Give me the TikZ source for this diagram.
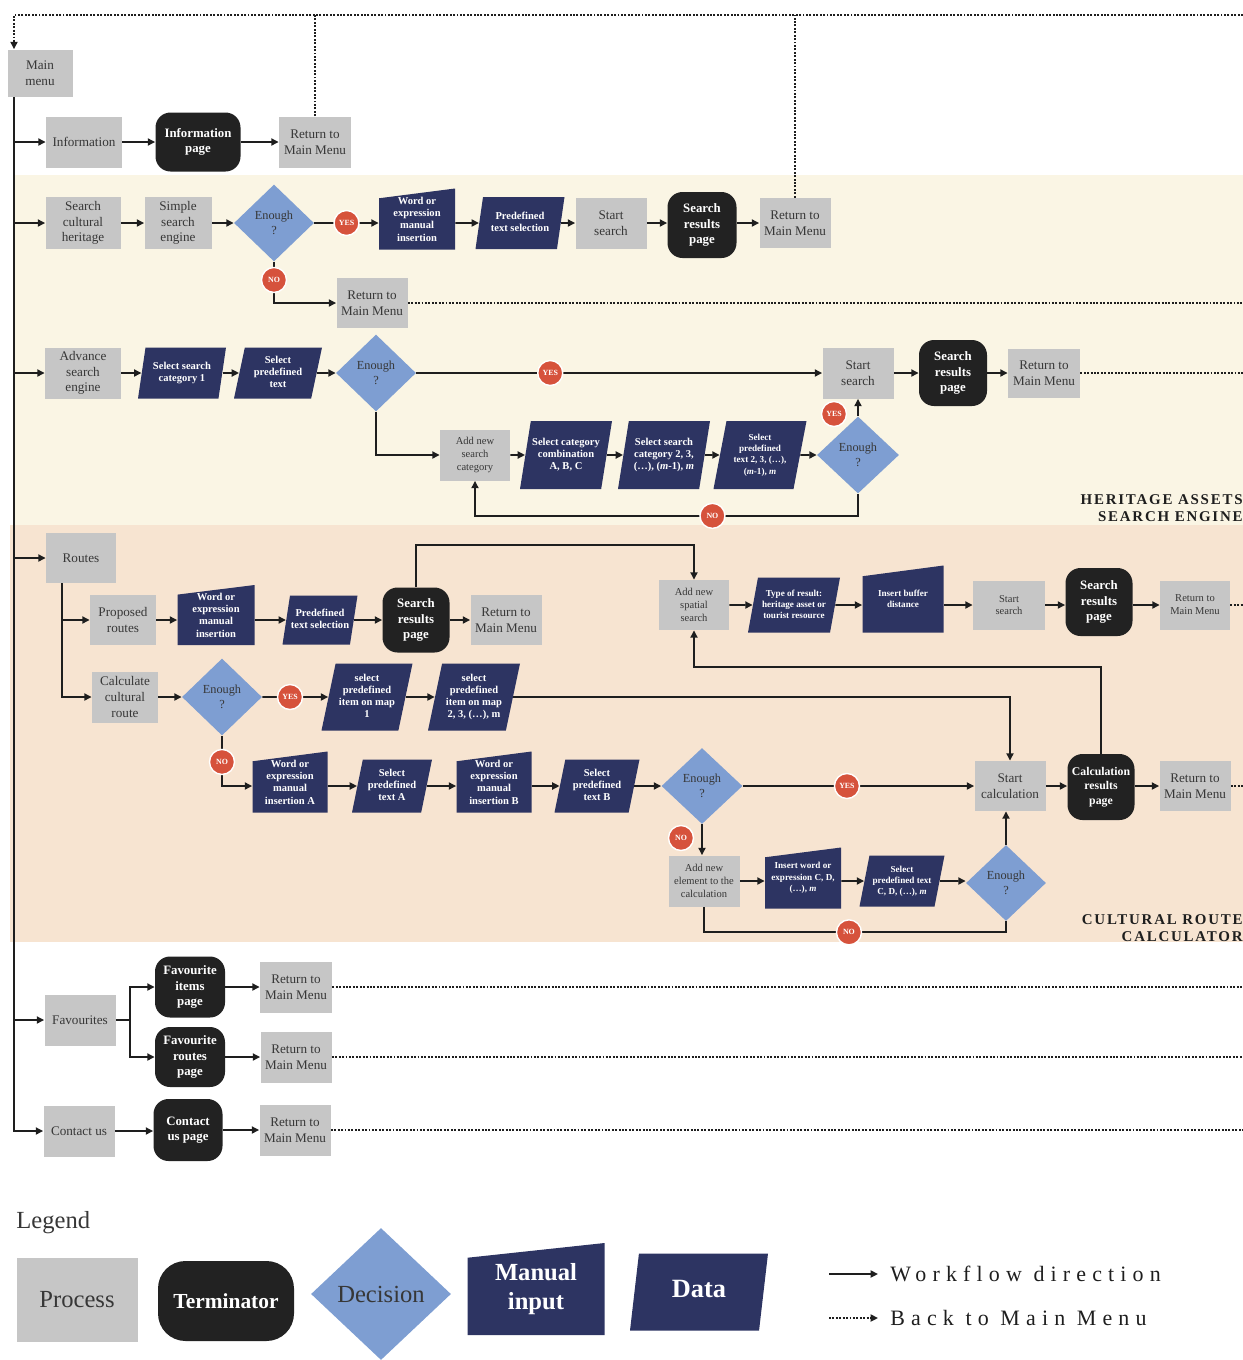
\documentclass[tikz,border=0pt]{standalone}
\usepackage{fontspec}
\setmainfont{Liberation Serif}
\usetikzlibrary{shapes.geometric,arrows.meta,calc}

% centred text of no width, so the slanted boxes keep their size
\newcommand{\ctext}[1]{\makebox[0pt]{\begin{tabular}{@{}c@{}}#1\end{tabular}}}

\tikzset{
  wh/.style 2 args={minimum width=#1*0.02cm, minimum height=#2*0.02cm},
  proc/.style={rectangle, fill=procgray, text=proctext, inner sep=1pt, align=center, font=\fontsize{7.5}{9}\selectfont},
  smallf/.style={font=\fontsize{6}{7.3}\selectfont},
  term/.style={rectangle, rounded corners=0.3cm, fill=termblack, text=white, inner sep=1pt, align=center, font=\bfseries\fontsize{7.3}{8.8}\selectfont},
  dec/.style={diamond, fill=decblue, text=proctext, inner sep=0pt, align=center, font=\fontsize{7}{8.5}\selectfont},
  datab/.style={trapezium, trapezium left angle=75, trapezium right angle=105, trapezium stretches body, fill=navyb, text=white, inner sep=1pt, font=\bfseries\fontsize{6}{7}\selectfont},
  manin/.style={rectangle, inner sep=1pt, align=center, text=white, font=\bfseries\fontsize{6}{7}\selectfont,
    path picture={\fill[navyb] (path picture bounding box.south west) -- (path picture bounding box.south east)
      -- (path picture bounding box.north east)
      -- ($(path picture bounding box.north west)!0.16!(path picture bounding box.south west)$) -- cycle;}},
  tinyf/.style={font=\bfseries\fontsize{5.2}{6.4}\selectfont},
  ans/.style={circle, fill=reddot, draw=white, line width=0.8pt, minimum size=0.5cm, inner sep=0pt, text=white, font=\bfseries\fontsize{4.5}{5}\selectfont},
  wline/.style={line width=1.1pt, draw=linecol},
  arr/.style={wline, -{Triangle[length=4.2pt,width=4pt]}},
  backdot/.style={line width=1.25pt, draw=linecol, dash pattern=on 1.1pt off 0.85pt},
  sect/.style={align=right, inner sep=0pt, text=linecol, font=\bfseries\fontsize{8.5}{9.7}\selectfont\addfontfeatures{LetterSpace=12}},
  legtext/.style={anchor=west, inner xsep=0.24cm, inner ysep=0pt, text=linecol, font=\fontsize{12.5}{14}\selectfont\addfontfeatures{LetterSpace=28}}
}

\begin{document}
\begin{tikzpicture}[x=0.02cm, y=-0.02cm] % one unit is one pixel of the sketch
  % colours
  \definecolor{procgray}{RGB}{198,198,198}
  \definecolor{proctext}{RGB}{55,55,55}
  \definecolor{termblack}{RGB}{34,34,34}
  \definecolor{decblue}{RGB}{126,158,210}
  \definecolor{navyb}{RGB}{45,52,98}
  \definecolor{reddot}{RGB}{214,82,60}
  \definecolor{linecol}{RGB}{30,30,30}
  \definecolor{creambg}{RGB}{250,245,228}
  \definecolor{peachbg}{RGB}{247,228,209}

  \useasboundingbox (0,0) rectangle (1243,1360);

  % section backgrounds
  \fill[creambg] (14,175) rectangle (1243,525);
  \fill[peachbg] (10,525) rectangle (1243,942);
  \node[sect, anchor=south east] (hase) at (1243,522) {HERITAGE ASSETS\\SEARCH ENGINE};
  \node[sect, anchor=south east] (crc) at (1243,942) {CULTURAL ROUTE\\CALCULATOR};

  % main menu and information
  \node[proc, wh={65}{47}] (main) at (40,73) {Main\\menu};
  \node[proc, wh={76}{51}] (info) at (84,142) {Information};
  \node[term, wh={85}{59}] (infopage) at (198,142) {Information\\page};
  \node[proc, wh={72}{51}] (ret1) at (315,142) {Return to\\Main Menu};

  % simple search
  \node[proc, wh={75}{52}] (sch) at (83,223) {Search\\cultural\\heritage};
  \node[proc, wh={67}{52}] (sse) at (178,223) {Simple\\search\\engine};
  \node[dec, wh={80}{77}] (en1) at (274,223) {Enough\\?};
  \node[manin, wh={76}{61}] (man1) at (417,219) {Word or\\expression\\manual\\insertion};
  \node[datab, wh={89}{52}] (dat1) at (520,223) {\ctext{Predefined\\text selection}};
  \node[proc, wh={71}{51}] (ss1) at (611,223) {Start\\search};
  \node[term, wh={69}{66}] (srp1) at (702,225) {Search\\results\\page};
  \node[proc, wh={71}{50}] (ret2) at (795,223) {Return to\\Main Menu};
  \node[proc, wh={71}{50}] (ret3) at (372,303) {Return to\\Main Menu};

  % advance search
  \node[proc, wh={76}{51}] (adv) at (83,373) {Advance\\search\\engine};
  \node[datab, wh={88}{51}] (dat2) at (182,373) {\ctext{Select search\\category 1}};
  \node[datab, wh={88}{51}] (dat3) at (278,373) {\ctext{Select\\predefined\\text}};
  \node[dec, wh={80}{77}] (en2) at (376,373) {Enough\\?};
  \node[proc, wh={71}{51}] (ss2) at (858,373) {Start\\search};
  \node[term, wh={68}{66}] (srp2) at (953,373) {Search\\results\\page};
  \node[proc, wh={72}{49}] (ret4) at (1044,373) {Return to\\Main Menu};
  \node[proc, smallf, wh={70}{51}] (addcat) at (475,455) {Add new\\search\\category};
  \node[datab, wh={92}{68}] (dat4) at (566,455) {\ctext{Select category\\combination\\A, B, C}};
  \node[datab, wh={92}{68}] (dat5) at (664,455) {\ctext{Select search\\category 2, 3,\\(\ldots), (\textit{m}-1), \textit{m}}};
  \node[datab, tinyf, wh={93}{68}] (dat6) at (760,455) {\ctext{Select\\predefined\\text 2, 3, (\ldots),\\(\textit{m}-1), \textit{m}}};
  \node[dec, wh={82}{77}] (en3) at (858,455) {Enough\\?};

  % routes
  \node[proc, wh={70}{50}] (routes) at (81,558) {Routes};
  \node[proc, wh={66}{50}] (prop) at (123,620) {Proposed\\routes};
  \node[manin, wh={77}{60}] (man2) at (216,615) {Word or\\expression\\manual\\insertion};
  \node[datab, wh={75}{49}] (dat7) at (320,620) {\ctext{Predefined\\text selection}};
  \node[term, wh={67}{65}] (srp3) at (416,620) {Search\\results\\page};
  \node[proc, wh={71}{50}] (ret5) at (506,620) {Return to\\Main Menu};
  \node[proc, smallf, wh={70}{50}] (spat) at (694,605) {Add new\\spatial\\search};
  \node[datab, tinyf, wh={92}{55}] (dat8) at (794,605) {\ctext{Type of result:\\heritage asset or\\tourist resource}};
  \node[manin, tinyf, wh={81}{67}] (man3) at (903,599) {Insert buffer\\distance};
  \node[proc, smallf, wh={72}{49}] (ss3) at (1009,605) {Start\\search};
  \node[term, wh={67}{68}] (srp4) at (1099,602) {Search\\results\\page};
  \node[proc, smallf, wh={70}{49}] (ret6) at (1195,605) {Return to\\Main Menu};

  % cultural route calculator
  \node[proc, wh={66}{51}] (calc) at (125,697) {Calculate\\cultural\\route};
  \node[dec, wh={80}{77}] (en4) at (222,697) {Enough\\?};
  \node[datab, wh={91}{67}] (dat9) at (367,697) {\ctext{select\\predefined\\item on map\\1}};
  \node[datab, wh={92}{67}] (dat10) at (474,697) {\ctext{select\\predefined\\item on map\\2, 3, (\ldots), m}};
  \node[proc, wh={71}{50}] (scalc) at (1010,786) {Start\\calculation};
  \node[term, font=\bfseries\fontsize{6.7}{8.3}\selectfont, wh={67}{66}] (crp) at (1101,787) {Calculation\\results\\page};
  \node[proc, wh={71}{50}] (ret7) at (1195,786) {Return to\\Main Menu};
  \node[manin, wh={75}{61}] (man4) at (290,782) {Word or\\expression\\manual\\insertion A};
  \node[datab, wh={80}{53}] (dat11) at (392,786) {\ctext{Select\\predefined\\text A}};
  \node[manin, wh={75}{61}] (man5) at (494,782) {Word or\\expression\\manual\\insertion B};
  \node[datab, wh={85}{53}] (dat12) at (597,786) {\ctext{Select\\predefined\\text B}};
  \node[dec, wh={81}{76}] (en5) at (702,786) {Enough\\?};
  \node[proc, smallf, wh={71}{51}] (addel) at (704,881) {Add new\\element to the\\calculation};
  \node[manin, tinyf, wh={76}{61}] (man6) at (803,878) {Insert word or\\expression C, D,\\(\ldots), \textit{m}};
  \node[datab, tinyf, wh={85}{51}] (dat13) at (902,881) {\ctext{Select\\predefined text\\C, D, (\ldots), \textit{m}}};
  \node[dec, wh={80}{76}] (en6) at (1006,883) {Enough\\?};

  % favourites and contact
  \node[proc, wh={71}{51}] (fav) at (80,1020) {Favourites};
  \node[term, wh={70}{61}] (favi) at (190,987) {Favourite\\items\\page};
  \node[term, wh={70}{60}] (favr) at (190,1057) {Favourite\\routes\\page};
  \node[proc, wh={72}{51}] (ret8) at (296,987) {Return to\\Main Menu};
  \node[proc, wh={71}{51}] (ret9) at (296,1057) {Return to\\Main Menu};
  \node[proc, wh={71}{51}] (contact) at (79,1131) {Contact us};
  \node[term, wh={69}{62}] (cpage) at (188,1130) {Contact\\us page};
  \node[proc, wh={71}{51}] (ret10) at (295,1130) {Return to\\Main Menu};

  % spine of the menu
  \coordinate (sp) at (14,97);
  \draw[arr] (sp) |- (contact.west);
  \foreach \n in {info, sch, adv, routes, fav}
    \draw[arr] (sp |- \n.west) -- (\n.west);

  % back to main menu
  \coordinate (topr) at (1243,15);
  \coordinate (rim) at (1243,0);
  \draw[backdot, -{Triangle[length=4.2pt,width=4pt]}] (topr) -| (main.north -| sp);
  \draw[backdot] (ret1.north) -- (ret1.north |- topr);
  \draw[backdot] (ret2.north) -- (ret2.north |- topr);
  \foreach \n in {ret3, ret4, ret6, ret7, ret8, ret9, ret10}
    \draw[backdot] (\n.east) -- (\n.east -| rim);

  % information
  \draw[arr] (info) -- (infopage);
  \draw[arr] (infopage) -- (ret1);

  % simple search
  \draw[arr] (sch) -- (sse);
  \draw[arr] (sse) -- (en1);
  \draw[arr] (en1) -- node[ans] (yes1) {YES} (en1 -| man1.west);
  \draw[arr] (man1.east |- dat1) -- (dat1);
  \draw[arr] (dat1) -- (ss1);
  \draw[arr] (ss1) -- (ss1 -| srp1.west);
  \draw[arr] (ret2 -| srp1.east) -- (ret2);
  \draw[arr] (en1.south) |- node[ans, pos=0.22] (no1) {NO} (ret3.west);

  % advance search
  \draw[arr] (adv) -- (dat2);
  \draw[arr] (dat2) -- (dat3);
  \draw[arr] (dat3) -- (en2);
  \draw[arr] (en2) -- node[ans, pos=0.33] (yes2) {YES} (ss2);
  \draw[arr] (ss2) -- (srp2);
  \draw[arr] (srp2) -- (ret4);
  \draw[arr] (en2.south) |- (addcat.west);
  \draw[arr] (addcat) -- (dat4);
  \draw[arr] (dat4) -- (dat5);
  \draw[arr] (dat5) -- (dat6);
  \draw[arr] (dat6) -- (en3);
  \draw[arr] (en3.north) -- (ss2.south);
  \node[ans] (yes3) at (834,414) {YES};
  \draw[arr] (en3.south) -- ++(0,22) -| node[ans, pos=0.19] (no3) {NO} (addcat.south);

  % routes
  \coordinate (rbr) at ($(routes.south west)+(16,0)$);
  \draw[arr] (rbr) |- (prop.west);
  \draw[arr] (rbr) |- (calc.west);
  \draw[arr] (prop) -- (prop -| man2.west);
  \draw[arr] (man2.east |- dat7) -- (dat7);
  \draw[arr] (dat7) -- (srp3);
  \draw[arr] (srp3) -- (ret5);
  \draw[arr] (srp3.north) -- ++(0,-42) -| (spat.north);
  \draw[arr] (spat) -- (dat8);
  \draw[arr] (dat8) -- (dat8 -| man3.west);
  \draw[arr] (man3.east |- ss3) -- (ss3);
  \draw[arr] (ss3) -- (ss3 -| srp4.west);
  \draw[arr] (ret6 -| srp4.east) -- (ret6);

  % calculator
  \draw[arr] (calc) -- (en4);
  \draw[arr] (en4) -- node[ans, pos=0.42] (yes4) {YES} (dat9);
  \draw[arr] (dat9) -- (dat10);
  \draw[arr] (dat10.east) -| (scalc.north);
  \draw[arr] (scalc) -- (scalc -| crp.west);
  \draw[arr] (ret7 -| crp.east) -- (ret7);
  \draw[arr] (crp.north) -- ++(0,-87) -| (spat.south);
  \draw[arr] (en4.south) |- node[ans, pos=0.26] (no4) {NO} (man4.west |- dat11);
  \draw[arr] (man4.east |- dat11) -- (dat11);
  \draw[arr] (dat11) -- (dat11 -| man5.west);
  \draw[arr] (man5.east |- dat12) -- (dat12);
  \draw[arr] (dat12) -- (en5);
  \draw[arr] (en5) -- node[ans, pos=0.45] (yes5) {YES} (scalc);
  \draw[arr] (en5.south) -- (en5.south |- addel.north);
  \node[ans] (no5) at (681,838) {NO};
  \draw[arr] (addel) -- (addel -| man6.west);
  \draw[arr] (man6.east |- dat13) -- (dat13);
  \draw[arr] (dat13) -- (dat13 -| en6.west);
  \draw[arr] (en6.north) -- (en6.north |- scalc.south);
  \draw[wline] (en6.south) -- ++(0,11) -| node[ans, pos=0.26] (no6) {NO} (addel.south);

  % favourites and contact
  \coordinate (fbr) at ($(fav.east)+(14,0)$);
  \draw[wline] (fav.east) -- (fbr);
  \draw[arr] (fbr) |- (favi.west);
  \draw[arr] (fbr) |- (favr.west);
  \draw[arr] (favi) -- (ret8);
  \draw[arr] (favr) -- (ret9);
  \draw[arr] (contact) -- (contact -| cpage.west);
  \draw[arr] (cpage) -- (ret10);

  % legend
  \node[anchor=west, inner sep=0pt, text=proctext, font=\fontsize{14}{16}\selectfont] (legtitle) at (16,1223) {Legend};
  \node[proc, font=\fontsize{14}{16}\selectfont, wh={121}{84}] (lproc) at (77,1300) {Process};
  \node[term, rounded corners=0.55cm, font=\bfseries\fontsize{12.2}{14}\selectfont, wh={136}{80}] (lterm) at (226,1301) {Terminator};
  \node[dec, font=\fontsize{14}{16}\selectfont, wh={140}{132}] (ldec) at (381,1294) {Decision};
  \node[manin, font=\bfseries\fontsize{14}{16.4}\selectfont, wh={137}{92}] (lman) at (536,1289) {Manual\\input};
  \node[datab, font=\bfseries\fontsize{15}{17}\selectfont, wh={138}{77}] (ldata) at (699,1292) {\ctext{Data}};
  \coordinate (lw0) at (829,1274);
  \node[legtext] (lwf) at (878,1274) {Workflow direction};
  \coordinate (lb0) at (829,1318);
  \node[legtext] (lbm) at (878,1318) {Back to Main Menu};
  \draw[arr] (lw0) -- (lwf.west);
  \draw[backdot, -{Triangle[length=4.2pt,width=4pt]}] (lb0) -- (lbm.west);
\end{tikzpicture}
\end{document}
